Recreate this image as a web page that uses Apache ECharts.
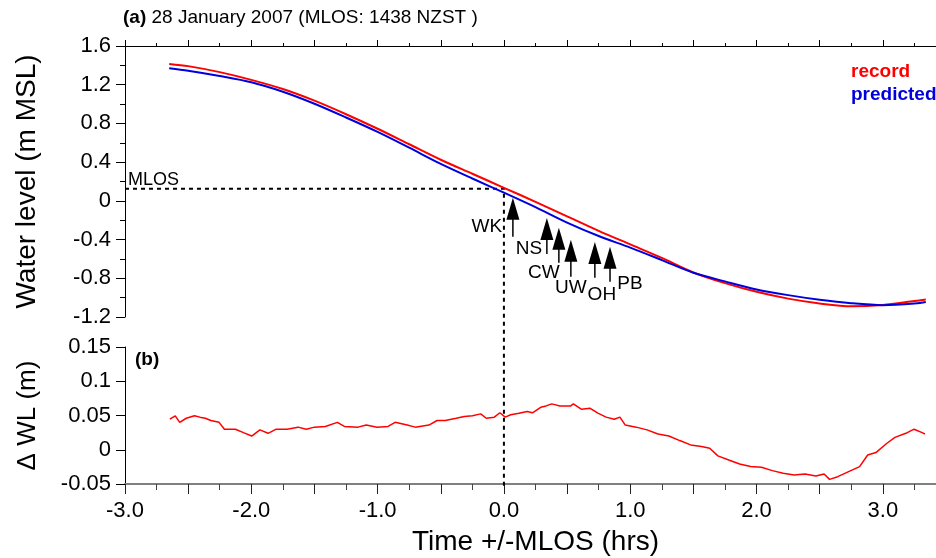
<!DOCTYPE html>
<html><head><meta charset="utf-8">
<script src="https://cdn.jsdelivr.net/npm/echarts@6/dist/echarts.min.js"></script>
<style>html,body{margin:0;padding:0;background:#fff}#c{width:936px;height:558px}</style>
</head><body><div id="c"></div>
<script>
const FONT = '"Liberation Sans", Arial, Helvetica, sans-serif';
const RED = '#ff0000';
const BLUE = '#0000dd';

// ---- Panel (a): water level (m MSL) vs time (hrs from MLOS)
const times = [-2.65, -2.5, -2.25, -2, -1.75, -1.5, -1.25, -1, -0.75, -0.5, -0.25, 0, 0.25, 0.5, 0.75, 1, 1.25, 1.5, 1.75, 2, 2.25, 2.5, 2.75, 3, 3.25, 3.34];
const record = [1.415, 1.392, 1.33, 1.25, 1.155, 1.035, 0.895, 0.745, 0.585, 0.425, 0.28, 0.135, -0.01, -0.16, -0.31, -0.45, -0.59, -0.74, -0.85, -0.94, -1.01, -1.06, -1.09, -1.075, -1.035, -1.02];
const predicted = [1.37, 1.345, 1.29, 1.225, 1.127, 1.003, 0.861, 0.712, 0.549, 0.382, 0.231, 0.085, -0.065, -0.224, -0.363, -0.483, -0.612, -0.743, -0.832, -0.915, -0.974, -1.022, -1.058, -1.078, -1.061, -1.044];

// ---- Panel (b): difference record - predicted (m)
const dTime = [-2.645,-2.602,-2.567,-2.515,-2.450,-2.407,-2.364,-2.320,-2.255,-2.213,
  -2.126,-2.062,-1.997,-1.932,-1.867,-1.803,-1.717,-1.630,-1.565,-1.500,
  -1.414,-1.319,-1.263,-1.155,-1.090,-1.004,-0.918,-0.861,-0.766,-0.702,
  -0.594,-0.529,-0.464,-0.378,-0.314,-0.249,-0.184,-0.140,-0.076,-0.032,
  0.010,0.054,0.119,0.184,0.226,0.291,0.334,0.378,0.443,0.529,
  0.550,0.615,0.680,0.744,0.809,0.874,0.918,0.961,1.047,1.133,
  1.220,1.306,1.392,1.478,1.564,1.629,1.694,1.780,1.866,1.953,
  2.039,2.125,2.211,2.298,2.384,2.470,2.535,2.578,2.643,2.729,
  2.816,2.880,2.945,3.032,3.096,3.182,3.247,3.311,3.333];
const dWL = [0.0446,0.0495,0.040,0.046,0.0495,0.0476,0.046,0.0427,0.040,0.030,
  0.030,0.025,0.020,0.029,0.024,0.030,0.030,0.033,0.030,0.033,
  0.034,0.040,0.034,0.033,0.036,0.033,0.034,0.040,0.036,0.033,
  0.036,0.0427,0.0427,0.046,0.0485,0.0495,0.0524,0.046,0.0476,0.054,
  0.0476,0.051,0.0534,0.0559,0.054,0.062,0.064,0.067,0.064,0.064,
  0.067,0.059,0.0607,0.0534,0.0476,0.0446,0.0476,0.036,0.033,0.029,
  0.023,0.020,0.0134,0.0071,0.0046,0.0022,-0.009,-0.0149,-0.0207,-0.0246,
  -0.0256,-0.0305,-0.0344,-0.0368,-0.0354,-0.0383,-0.0354,-0.0432,-0.0393,-0.032,
  -0.0246,-0.0076,-0.0041,0.0095,0.018,0.024,0.030,0.025,0.023];

// ---- MLOS reference
const mlosTime = 0;
const mlosLevel = 0.125;

// ---- Station arrows
const stations = ['WK', 'NS', 'CW', 'UW', 'OH', 'PB'];
const stationTime = [0.071, 0.34, 0.435, 0.53, 0.72, 0.84];
const arrowTip = [0.031, -0.176, -0.279, -0.403, -0.424, -0.475];
const arrowTail = [-0.372, -0.548, -0.64, -0.785, -0.795, -0.837];

// ---- Axis tick settings
const xMin = -3, xMax = 3.5, xStep = 0.5;
const yTopMin = -1.2, yTopMax = 1.6, yTopStep = 0.4;
const yBotMin = -0.05, yBotMax = 0.15, yBotStep = 0.05;

// label placement (style, pixels relative to arrow tail)
const labelOffset = {WK: [-26, -10], NS: [-18, -5], CW: [-15, 10], UW: [0, 11], OH: [7, 17], PB: [20, 2]};

const chart = echarts.init(document.getElementById('c'), null, {renderer: 'canvas'});

const yLabel = {margin: 14, fontSize: 22, color: '#000', fontFamily: FONT};
const option = {
  animation: false,
  backgroundColor: '#fff',
  title: {
    text: '{b|(a)} 28 January 2007 (MLOS: 1438 NZST )',
    left: 123, top: 8, padding: 0,
    textStyle: {fontSize: 19, fontWeight: 'normal', color: '#000', fontFamily: FONT,
      rich: {b: {fontWeight: 'bold', fontSize: 19, color: '#000', fontFamily: FONT}}}
  },
  legend: {
    orient: 'vertical', left: 846, top: 62, padding: 0,
    itemWidth: 0, itemHeight: 19, itemGap: 4, icon: 'none', selectedMode: false,
    textStyle: {fontSize: 19, fontWeight: 'bold', fontFamily: FONT},
    data: [{name: 'record', textStyle: {color: RED}}, {name: 'predicted', textStyle: {color: BLUE}}]
  },
  grid: [
    {left: 125, top: 46, width: 821, height: 271, containLabel: false, outerBoundsMode: 'none'},
    {left: 125, top: 347, width: 821, height: 137, containLabel: false, outerBoundsMode: 'none'}
  ],
  xAxis: [
    {gridIndex: 0, type: 'value', min: xMin, max: xMax, interval: xStep, position: 'top',
      axisLine: {show: true, onZero: false, lineStyle: {color: '#000', width: 1}},
      axisTick: {show: true, length: 6, lineStyle: {color: '#000'}},
      minorTick: {show: true, splitNumber: 2, length: 3, lineStyle: {color: '#000'}},
      axisLabel: {show: false}, splitLine: {show: false}},
    {gridIndex: 1, type: 'value', min: xMin, max: xMax, interval: xStep, position: 'bottom',
      axisLine: {show: true, onZero: false, lineStyle: {color: '#808080', width: 2}},
      axisTick: {show: true, length: 10, lineStyle: {color: '#222'}},
      minorTick: {show: true, splitNumber: 2, length: 6, lineStyle: {color: '#444'}},
      axisLabel: {margin: 16, fontSize: 22, color: '#000', fontFamily: FONT,
        formatter: v => Math.abs(v - Math.round(v)) < 1e-9 ? v.toFixed(1) : ''},
      splitLine: {show: false},
      name: 'Time +/-MLOS (hrs)', nameLocation: 'middle', nameGap: 44,
      nameTextStyle: {fontSize: 28, color: '#000', fontFamily: FONT}}
  ],
  yAxis: [
    {gridIndex: 0, type: 'value', min: yTopMin, max: yTopMax, interval: yTopStep,
      axisLine: {show: true, onZero: false, lineStyle: {color: '#000'}},
      axisTick: {show: true, length: 9, lineStyle: {color: '#000'}},
      minorTick: {show: true, splitNumber: 2, length: 5, lineStyle: {color: '#000'}},
      axisLabel: yLabel, splitLine: {show: false},
      name: 'Water level (m MSL)', nameLocation: 'middle', nameGap: 84,
      nameTextStyle: {fontSize: 28, color: '#000', fontFamily: FONT}},
    {gridIndex: 1, type: 'value', min: yBotMin, max: yBotMax, interval: yBotStep,
      axisLine: {show: true, onZero: false, lineStyle: {color: '#000'}},
      axisTick: {show: true, length: 9, lineStyle: {color: '#000'}},
      axisLabel: yLabel, splitLine: {show: false},
      name: 'Δ WL (m)', nameLocation: 'middle', nameGap: 84,
      nameTextStyle: {fontSize: 26, color: '#000', fontFamily: FONT}}
  ],
  series: [
    {name: 'record', type: 'line', xAxisIndex: 0, yAxisIndex: 0, smooth: 0.3, symbol: 'none',
      data: times.map((t, i) => [t, record[i]]),
      lineStyle: {color: RED, width: 2}, itemStyle: {color: RED}, z: 3},
    {name: 'predicted', type: 'line', xAxisIndex: 0, yAxisIndex: 0, smooth: 0.3, symbol: 'none',
      data: times.map((t, i) => [t, predicted[i]]),
      lineStyle: {color: BLUE, width: 2}, itemStyle: {color: BLUE}, z: 4},
    {name: 'dWL', type: 'line', xAxisIndex: 1, yAxisIndex: 1, symbol: 'none',
      data: dTime.map((t, i) => [t, dWL[i]]),
      lineStyle: {color: RED, width: 1.5}, itemStyle: {color: RED}},
    {name: 'stations', type: 'custom', xAxisIndex: 0, yAxisIndex: 0, z: 5,
      data: stationTime.map((t, i) => [t, arrowTip[i], arrowTail[i]]),
      renderItem: function (params, api) {
        const i = params.dataIndex;
        const tip = api.coord([api.value(0), api.value(1)]);
        const tail = api.coord([api.value(0), api.value(2)]);
        const off = labelOffset[stations[i]];
        return {type: 'group', children: [
          {type: 'polygon', shape: {points: [[tip[0], tip[1]], [tip[0] - 6.5, tip[1] + 22], [tip[0] + 6.5, tip[1] + 22]]},
            style: {fill: '#000', stroke: null}},
          {type: 'line', shape: {x1: tip[0], y1: tip[1] + 20, x2: tail[0], y2: tail[1]},
            style: {stroke: '#000', lineWidth: 1.5}},
          {type: 'text', x: tail[0] + off[0], y: tail[1] + off[1],
            style: {text: stations[i], font: '19px ' + FONT, fill: '#000', align: 'center', verticalAlign: 'middle'}}
        ]};
      }}
  ]
};
chart.setOption(option);

const pStart = chart.convertToPixel({gridIndex: 0}, [xMin, mlosLevel]);
const pMlos = chart.convertToPixel({gridIndex: 0}, [mlosTime, mlosLevel]);
const pEnd = chart.convertToPixel({gridIndex: 1}, [mlosTime, yBotMin]);
chart.setOption({
  graphic: [
    {type: 'polyline', z: 2, shape: {points: [pStart, pMlos, [pMlos[0], pEnd[1] + 4]]},
      style: {stroke: '#000', lineWidth: 2, lineDash: [4, 4], fill: null}},
    {type: 'text', x: pStart[0] + 3, y: pStart[1] - 9,
      style: {text: 'MLOS', font: '18px ' + FONT, fill: '#000', verticalAlign: 'middle'}},
    {type: 'text', left: 135, top: 350,
      style: {text: '(b)', font: 'bold 19px ' + FONT, fill: '#000'}}
  ]
});
</script></body></html>
